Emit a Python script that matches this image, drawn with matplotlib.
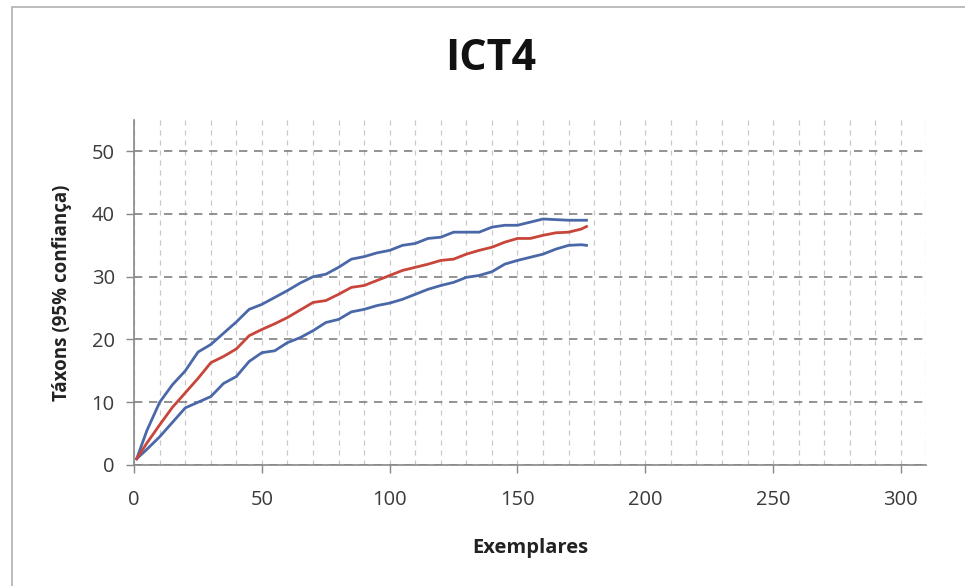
import matplotlib
matplotlib.use("Agg")
import matplotlib.pyplot as plt
from matplotlib.patches import Rectangle
from matplotlib.ticker import MultipleLocator

title = "ICT4"
xlabel = "Exemplares"
ylabel = "Táxons (95% confiança)"

samples = [1, 5, 10, 15, 20, 25, 30, 35, 40, 45, 50, 55, 60, 65, 70, 75, 80, 85,
           90, 95, 100, 105, 110, 115, 120, 125, 130, 135, 140, 145, 150, 155,
           160, 165, 170, 175, 177]
upper = [1, 5.5, 10, 12.8, 15, 18, 19.2, 21, 22.8, 24.8, 25.6, 26.7, 27.8, 29,
         30, 30.4, 31.5, 32.8, 33.2, 33.8, 34.2, 35, 35.3, 36.1, 36.3, 37.1,
         37.1, 37.1, 37.9, 38.2, 38.2, 38.7, 39.2, 39.1, 39, 39, 39]
mean = [1, 3.5, 6.4, 9.2, 11.5, 13.8, 16.3, 17.3, 18.5, 20.6, 21.6, 22.5, 23.5,
        24.7, 25.9, 26.2, 27.2, 28.3, 28.6, 29.4, 30.2, 31, 31.5, 32, 32.6,
        32.8, 33.6, 34.2, 34.7, 35.5, 36.1, 36.1, 36.6, 37, 37.1, 37.6, 38]
lower = [1, 2.5, 4.5, 6.8, 9.1, 10, 10.9, 13, 14.1, 16.5, 17.9, 18.2, 19.5,
         20.3, 21.4, 22.7, 23.2, 24.4, 24.8, 25.4, 25.8, 26.4, 27.2, 28, 28.6,
         29.1, 29.9, 30.2, 30.8, 32, 32.6, 33.1, 33.6, 34.4, 35, 35.1, 35]

xticks = [0, 50, 100, 150, 200, 250, 300]
yticks = [0, 10, 20, 30, 40, 50]

blue = "#4a68a8"
red = "#c8453a"

fig = plt.figure(figsize=(9.65, 5.86), dpi=100)
fig.patches.append(Rectangle((0.012, -0.01), 1.0, 0.998, transform=fig.transFigure,
                             fill=False, edgecolor="#b0b0b0", linewidth=1.2))

ax = fig.add_axes([0.139, 0.2065, 0.821, 0.589])
ax.set_xlim(0, 310)
ax.set_ylim(0, 55)

ax.xaxis.set_minor_locator(MultipleLocator(10))
ax.set_xticks(xticks)
ax.set_yticks(yticks)
ax.grid(which="both", axis="x", linestyle=(0, (4, 4)), color="#c8c8c8", linewidth=0.9)
ax.grid(which="major", axis="y", linestyle=(0, (5, 4)), color="#808080", linewidth=1.2)
ax.set_axisbelow(True)

ax.plot(samples, upper, color=blue, linewidth=2)
ax.plot(samples, lower, color=blue, linewidth=2)
ax.plot(samples, mean, color=red, linewidth=2)

for s in ["top", "right"]:
    ax.spines[s].set_visible(False)
for s in ["left", "bottom"]:
    ax.spines[s].set_color("#888888")
    ax.spines[s].set_linewidth(1.2)

ax.tick_params(axis="both", which="major", labelsize=14.5, colors="#888888",
               labelcolor="#3a3a3a", length=6, width=1)
ax.tick_params(axis="x", which="minor", length=0)
ax.tick_params(axis="x", pad=12)
ax.tick_params(axis="y", pad=8)
for lab in ax.get_xticklabels() + ax.get_yticklabels():
    lab.set_family("Open Sans")

ax.set_xlabel(xlabel, fontsize=14.5, fontweight="bold", family="Open Sans",
              labelpad=20, color="#222222")
ax.set_ylabel(ylabel, fontsize=13.5, fontweight="bold", family="Open Sans",
              labelpad=14, color="#222222")
fig.text(0.508, 0.9, title, ha="center", va="center", fontsize=31,
         fontweight="bold", family="Open Sans", color="#111111")

fig.savefig("out.png", dpi=100)
